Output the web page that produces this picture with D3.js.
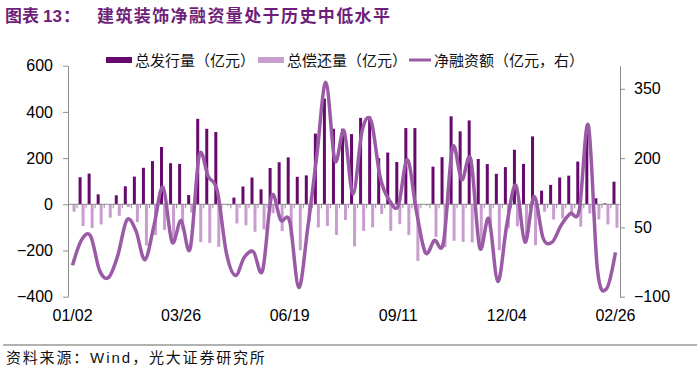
<!DOCTYPE html>
<html>
<head>
<meta charset="utf-8">
<script src="https://cdn.jsdelivr.net/npm/d3@7"></script>
<style>
  body { margin: 0; background: #fff; }
  svg { display: block; }
  .cjk { font-family: "Noto Sans CJK SC", sans-serif; }
  .num { font-family: "Liberation Sans", Arial, sans-serif; }
</style>
</head>
<body>
<div id="chart"></div>
<script>
// weekly dates
const dates = [
  "01/02","01/09","01/16","01/23","01/30","02/06","02/13","02/20","02/27","03/05",
  "03/12","03/19","03/26","04/02","04/09","04/16","04/23","04/30","05/07","05/14",
  "05/21","05/28","06/04","06/11","06/19","06/26","07/03","07/10","07/17","07/24",
  "07/31","08/07","08/14","08/21","08/28","09/04","09/11","09/18","09/25","10/02",
  "10/09","10/16","10/23","10/30","11/06","11/13","11/20","11/27","12/04","12/11",
  "12/18","12/25","01/01","01/08","01/15","01/22","01/29","02/05","02/12","02/19",
  "02/26"
];
const labelDates = ["01/02", "03/26", "06/19", "09/11", "12/04", "02/26"];

// 总发行量 (亿元)
const issuance = [
  0, 117, 133, 43, 0, 39, 78, 120, 158, 187,
  248, 178, 175, 40, 370, 327, 313, 0, 29, 77,
  116, 65, 157, 182, 203, 119, 125, 306, 458, 327,
  327, 304, 374, 380, 200, 224, 183, 330, 330, 0,
  163, 204, 381, 316, 363, 196, 174, 132, 161, 236,
  175, 294, 59, 84, 116, 124, 185, 311, 26, 4,
  98
];
// 总偿还量 (亿元), shown below zero
const repayment = [
  -32, -94, -102, -87, -58, -50, -12, -77, -178, -133,
  -111, -160, -110, -36, -164, -167, -184, -5, -83, -91,
  -119, -109, -39, -116, -140, -199, -75, -100, -94, -133,
  -68, -182, -115, -100, -42, -115, -86, -133, -245, -5,
  -141, -186, -158, -163, -165, -190, -105, -199, -104, -95,
  -157, -177, -32, -66, -61, -44, -97, -40, -66, -87,
  -102
];
// 净融资额 (亿元, 右轴)
const netFinancing = [
  -32, 23, 31, -44, -58, -11, 66, 43, -20, 54,
  137, 18, 65, 4, 206, 160, 129, -5, -54, -14,
  -3, -44, 118, 66, 63, -80, 50, 206, 364, 194,
  259, 122, 259, 280, 158, 109, 97, 197, 85, -5,
  22, 18, 223, 153, 198, 6, 69, -67, 57, 141,
  18, 117, 27, 18, 55, 80, 88, 271, -40, -83,
  -4
];

const leftTicks = [-400, -200, 0, 200, 400, 600];
const rightTicks = [-100, 50, 200, 350];

const width = 700, height = 375;
const plot = { left: 68, right: 620, top: 65.7, bottom: 296.7 };

const colIssue = "#660a6e";
const colRepay = "#c99dd0";
const colNet = "#9a5aa6";
const colAxis = "#8c8c8c";
const colTitle = "#6e1f7a";

const svg = d3.select("#chart").append("svg")
  .attr("width", width)
  .attr("height", height);

const x = d3.scaleBand()
  .domain(dates)
  .range([plot.left, plot.right]);

const yL = d3.scaleLinear()
  .domain([-400, 600])
  .range([plot.bottom, plot.top]);

const yR = d3.scaleLinear()
  .domain([-100, 400])
  .range([plot.bottom, plot.top]);

const bw = x.bandwidth();
const barW = 3;
const cx = d => x(d) + bw / 2;

// title
const title = svg.append("g")
  .attr("fill", colTitle)
  .style("font-size", "17px")
  .style("font-weight", "bold");
title.append("text").attr("class", "cjk").attr("x", 5).attr("y", 22).text("图表");
title.append("text").attr("class", "num").attr("x", 43).attr("y", 22).text("13");
title.append("text").attr("class", "cjk").attr("x", 63).attr("y", 22).text("：");
title.append("text").attr("class", "cjk").attr("x", 97).attr("y", 22)
  .style("letter-spacing", "1.4px")
  .text("建筑装饰净融资量处于历史中低水平");

// bars
svg.append("g").selectAll("rect")
  .data(dates)
  .join("rect")
  .attr("x", d => cx(d) - barW)
  .attr("width", barW)
  .attr("y", (d, i) => yL(issuance[i]))
  .attr("height", (d, i) => yL(0) - yL(issuance[i]))
  .attr("fill", colIssue);

svg.append("g").selectAll("rect")
  .data(dates)
  .join("rect")
  .attr("x", d => cx(d))
  .attr("width", barW)
  .attr("y", yL(0))
  .attr("height", (d, i) => yL(repayment[i]) - yL(0))
  .attr("fill", colRepay);

// category axis on the zero line, ticks between categories
const xAxis = svg.append("g");
xAxis.append("line")
  .attr("x1", plot.left).attr("x2", plot.right)
  .attr("y1", yL(0)).attr("y2", yL(0))
  .attr("stroke", colAxis);
xAxis.selectAll(".tick")
  .data(dates.slice(1))
  .join("line")
  .attr("class", "tick")
  .attr("x1", d => x(d)).attr("x2", d => x(d))
  .attr("y1", yL(0)).attr("y2", yL(0) + 4)
  .attr("stroke", colAxis);

svg.append("g").selectAll("text")
  .data(labelDates)
  .join("text")
  .attr("class", "num")
  .attr("x", d => cx(d))
  .attr("y", 321)
  .attr("text-anchor", "middle")
  .style("font-size", "16px")
  .attr("fill", "#000")
  .text(d => d);

// net financing line
const line = d3.line()
  .x((d, i) => cx(dates[i]))
  .y(d => yR(d))
  .curve(d3.curveCardinal.tension(0));

svg.append("path")
  .datum(netFinancing)
  .attr("d", line)
  .attr("fill", "none")
  .attr("stroke", colNet)
  .attr("stroke-width", 3.5)
  .attr("stroke-linejoin", "round");

// y axes
const leftAxis = svg.append("g")
  .attr("transform", `translate(${plot.left},0)`)
  .call(d3.axisLeft(yL).tickValues(leftTicks).tickSize(5).tickSizeOuter(0).tickPadding(10));

const rightAxis = svg.append("g")
  .attr("transform", `translate(${plot.right},0)`)
  .call(d3.axisRight(yR).tickValues(rightTicks).tickSize(5).tickSizeOuter(0).tickPadding(9));

[leftAxis, rightAxis].forEach(g => {
  g.select(".domain").attr("stroke", colAxis);
  g.selectAll(".tick line").attr("stroke", colAxis);
  g.selectAll(".tick text")
    .attr("class", "num")
    .attr("fill", "#000")
    .style("font-size", "16px");
});

// legend
const legend = svg.append("g").attr("class", "cjk").style("font-size", "15px").attr("fill", "#111");
legend.append("rect").attr("x", 106).attr("y", 57).attr("width", 26).attr("height", 6).attr("fill", colIssue);
legend.append("text").attr("x", 135).attr("y", 65.5).text("总发行量（亿元）");
legend.append("rect").attr("x", 258).attr("y", 57).attr("width", 26).attr("height", 6).attr("fill", colRepay);
legend.append("text").attr("x", 287).attr("y", 65.5).text("总偿还量（亿元）");
legend.append("line").attr("x1", 409).attr("x2", 431).attr("y1", 60).attr("y2", 60)
  .attr("stroke", colNet).attr("stroke-width", 3);
legend.append("text").attr("x", 434).attr("y", 65.5).text("净融资额（亿元，右）");

// source
svg.append("line")
  .attr("x1", 3).attr("x2", 697)
  .attr("y1", 345).attr("y2", 345)
  .attr("stroke", "#666").attr("stroke-width", 1.2);

const src = svg.append("text")
  .attr("x", 6).attr("y", 363)
  .attr("class", "cjk")
  .style("font-size", "15px")
  .style("letter-spacing", "1.8px")
  .attr("fill", "#111");
src.append("tspan").text("资料来源：");
src.append("tspan").attr("class", "num").style("letter-spacing", "2px").text("Wind");
src.append("tspan").text("，光大证券研究所");
</script>
</body>
</html>
